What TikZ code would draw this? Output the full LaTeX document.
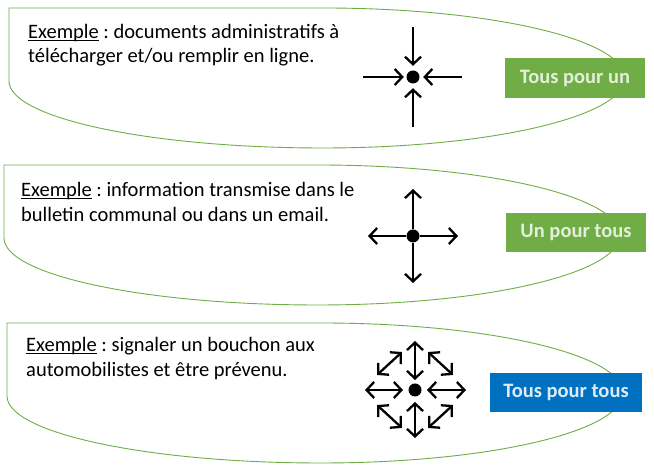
\documentclass[tikz,border=0pt]{standalone}
\usepackage{fontspec}
\setmainfont{Carlito}
\usetikzlibrary{arrows.meta}
\definecolor{lgreen}{HTML}{70AD47}
\definecolor{bblue}{HTML}{0070C0}
\definecolor{gtxt}{HTML}{E2EFDA}
\definecolor{btxt}{HTML}{DDEBF7}
\newcommand\myul[1]{\setbox0\hbox{#1}\rlap{\rule[-2.2pt]{\wd0}{0.9pt}}\box0\relax}
\frenchspacing
\begin{document}
\begin{tikzpicture}[x=1pt,y=1pt,
  leaf/.style={draw=lgreen, line width=0.9pt},
  txt/.style={anchor=base west, inner sep=0pt, font=\fontsize{20.5}{24}\selectfont},
  tag/.style={minimum width=140pt, minimum height=40pt, inner sep=0pt, font=\fontsize{20.5}{24}\selectfont\bfseries},
  dotnode/.style={circle, fill=black, minimum size=13pt, inner sep=0pt},
  arr/.style={line width=2.3pt, -{Straight Barb[length=7.5pt,width=16pt]}},
  darr/.style={line width=2.3pt, {Straight Barb[length=7.5pt,width=16pt]}-{Straight Barb[length=7.5pt,width=16pt]}}]
\useasboundingbox (0,0) rectangle (654,470);
\fill[white] (0,0) rectangle (654,470);

% leaf shapes
\draw[leaf] (9,462) -- ++(314,0) arc[start angle=90,end angle=-90,x radius=302,y radius=70]
  arc[start angle=270,end angle=180,x radius=314,y radius=67] -- cycle;
\draw[leaf] (4,305) -- ++(314,0) arc[start angle=90,end angle=-90,x radius=302,y radius=70]
  arc[start angle=270,end angle=180,x radius=314,y radius=67] -- cycle;
\draw[leaf] (7,147) -- ++(314,0) arc[start angle=90,end angle=-90,x radius=302,y radius=70]
  arc[start angle=270,end angle=180,x radius=314,y radius=67] -- cycle;

% texts
\node[txt] (t1a) at (28,431) {\myul{Exemple} : documents administratifs à};
\node[txt] (t1b) at (28,407) {télécharger et/ou remplir en ligne.};
\node[txt] (t2a) at (21,273) {\myul{Exemple} : information transmise dans le};
\node[txt] (t2b) at (21,248) {bulletin communal ou dans un email.};
\node[txt] (t3a) at (26,118) {\myul{Exemple} : signaler un bouchon aux};
\node[txt] (t3b) at (26,93) {automobilistes et être prévenu.};

% tags
\node[tag, fill=lgreen, text=gtxt] (g1) at (575,392) {Tous pour un};
\node[tag, fill=lgreen, text=gtxt, minimum height=39pt] (g2) at (576,237.5) {Un pour tous};
\node[tag, fill=bblue, text=btxt, minimum width=152pt, minimum height=39pt] (g3) at (566,77.5) {Tous pour tous};

% symbol 1: all towards one
\node[dotnode] (c1) at (413,393) {};
\coordinate (c1n) at (413,443);
\coordinate (c1s) at (413,343);
\coordinate (c1w) at (363,393);
\coordinate (c1e) at (462,393);
\draw[arr, shorten >=4.5pt] (c1n) -- (c1);
\draw[arr, shorten >=4.5pt] (c1s) -- (c1);
\draw[arr, shorten >=2.5pt] (c1w) -- (c1);
\draw[arr, shorten >=3.5pt] (c1e) -- (c1);

% symbol 2: one towards all
\node[dotnode] (c2) at (413,234) {};
\coordinate (c2n) at (413,281);
\coordinate (c2s) at (413,187);
\coordinate (c2w) at (368,234);
\coordinate (c2e) at (458,234);
\draw[arr] (c2) -- (c2n);
\draw[arr] (c2) -- (c2s);
\draw[arr] (c2) -- (c2w);
\draw[arr] (c2) -- (c2e);

% symbol 3: all towards all
\node[dotnode] (c3) at (415,80) {};
\coordinate (n3a) at (415,90);  \coordinate (n3b) at (415,129);
\coordinate (s3a) at (415,68);  \coordinate (s3b) at (415,32);
\coordinate (w3a) at (403,80);  \coordinate (w3b) at (365,80);
\coordinate (e3a) at (427,80);  \coordinate (e3b) at (466,80);
\coordinate (nw3a) at (377,95); \coordinate (nw3b) at (402,118);
\coordinate (ne3a) at (428,118); \coordinate (ne3b) at (453,95);
\coordinate (sw3a) at (377,65); \coordinate (sw3b) at (402,42);
\coordinate (se3a) at (428,42); \coordinate (se3b) at (453,65);
\draw[darr] (n3a) -- (n3b);
\draw[darr] (s3a) -- (s3b);
\draw[darr] (w3a) -- (w3b);
\draw[darr] (e3a) -- (e3b);
\draw[darr] (nw3a) -- (nw3b);
\draw[darr] (ne3a) -- (ne3b);
\draw[darr] (sw3a) -- (sw3b);
\draw[darr] (se3a) -- (se3b);
\end{tikzpicture}
\end{document}
